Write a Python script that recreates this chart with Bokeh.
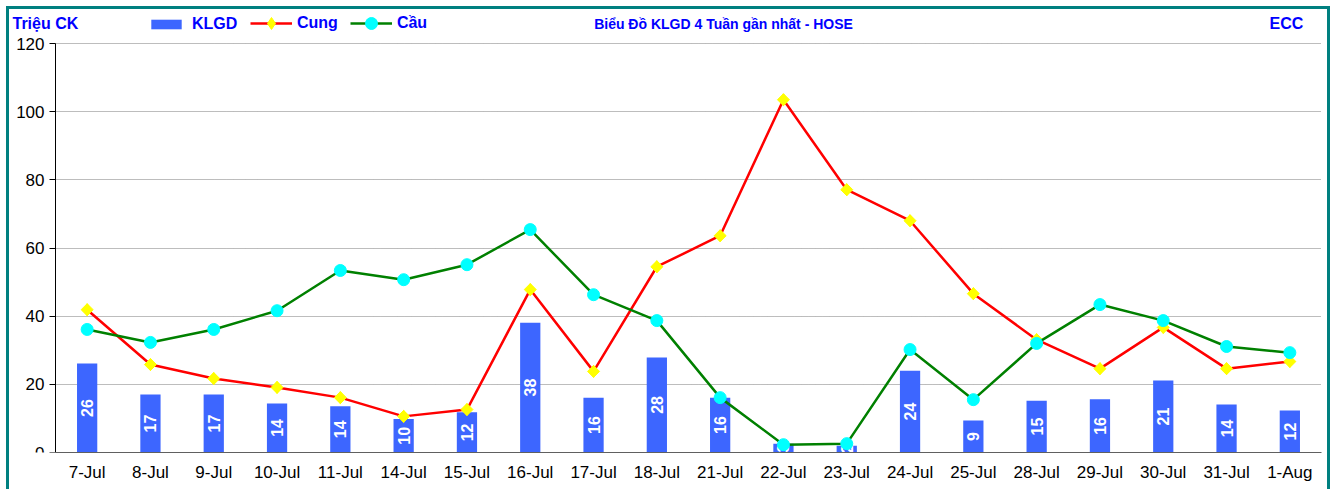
import numpy as np
from bokeh.plotting import figure
from bokeh.models import (ColumnDataSource, Label, Legend, LegendItem, Range1d, FixedTicker,
                          BoxAnnotation)
from bokeh.core.properties import value
from bokeh.embed import file_html
from bokeh.resources import INLINE

dates = ["7-Jul", "8-Jul", "9-Jul", "10-Jul", "11-Jul", "14-Jul", "15-Jul", "16-Jul", "17-Jul", "18-Jul",
         "21-Jul", "22-Jul", "23-Jul", "24-Jul", "25-Jul", "28-Jul", "29-Jul", "30-Jul", "31-Jul", "1-Aug"]
klgd = [26.1, 17.0, 17.0, 14.4, 13.6, 9.8, 11.8, 38.1, 16.1, 27.9,
        16.1, 2.6, 2.0, 24.0, 9.4, 15.2, 15.6, 21.1, 14.1, 12.3]
cung = [41.9, 25.8, 21.7, 19.1, 16.1, 10.6, 12.6, 47.8, 23.8, 54.5,
        63.6, 103.5, 77.1, 68.0, 46.6, 33.1, 24.6, 36.7, 24.6, 26.7]
cau = [36.1, 32.3, 36.1, 41.6, 53.4, 50.7, 55.1, 65.4, 46.3, 38.7,
       16.1, 2.3, 2.6, 30.2, 15.5, 32.0, 43.4, 38.7, 31.1, 29.3]
y_ticks = [0, 20, 40, 60, 80, 100, 120]

# ---- layout geometry (canvas pixels) ----
W, H = 1324, 483
AXIS_X = 46            # y-axis position inside canvas
FRAME_R = 1312         # right edge of plotting area
FRAME_T, FRAME_B = 1, 443
PLOT_TOP_PX = 34       # where y = 120 sits
Y_MAX = y_ticks[-1]
n = len(dates)
px_per_x = (FRAME_R - AXIS_X) / n
px_per_y = (FRAME_B - PLOT_TOP_PX) / Y_MAX
x_lo, x_hi = -0.5, n - 0.5
x_start = x_lo - AXIS_X / px_per_x
y_end = (FRAME_B - FRAME_T) / px_per_y
HEADER_CY = 14         # header text centre, canvas px from top
HEADER_Y = (FRAME_B - HEADER_CY) / px_per_y

idx = list(range(n))
src = ColumnDataSource(dict(
    x=idx, klgd=klgd, cung=cung, cau=cau,
    half=[v / 2 for v in klgd],
    lbl=[str(int(round(v))) for v in klgd],
))

BLUE_TXT = "#0000FF"
FONT = "Liberation Sans"

p = figure(x_range=Range1d(x_start, x_hi), y_range=Range1d(0, y_end),
           width=W, height=H, output_backend="svg", toolbar_location=None,
           min_border_left=0, min_border_right=W - FRAME_R, min_border_top=FRAME_T,
           min_border_bottom=H - FRAME_B)
p.styles = {"border-style": "solid", "border-color": "#008080", "border-width": "3px 3px 0 3px",
            "margin": "6px 0 0 6px"}
p.outline_line_color = None
p.background_fill_color = "white"
p.border_fill_color = "white"

bars = p.vbar(x="x", top="klgd", width=0.32, source=src, fill_color="#3D66FF", line_color=None)
p.text(x="x", y="half", text="lbl", source=src, angle=np.pi / 2, text_color="white",
       text_font=value(FONT), text_font_style="bold", text_font_size="16px",
       text_align="center", text_baseline="middle")

l1 = p.line(x="x", y="cung", source=src, line_color="#FF0000", line_width=2.5)
# diamond glyph (also used for the legend key) + rotated square giving the even diamond shape
s1 = p.scatter(x="x", y="cung", source=src, marker="diamond", size=12,
               fill_color="#FFFF00", line_color="#FFFF00")
p.scatter(x="x", y="cung", source=src, marker="square", angle=np.pi / 4, size=8.5,
          fill_color="#FFFF00", line_color="#FFFF00")
l2 = p.line(x="x", y="cau", source=src, line_color="#008000", line_width=2.5)
s2 = p.scatter(x="x", y="cau", source=src, marker="circle", size=12,
               fill_color="#00FFFF", line_color="#00FFFF")

p.xgrid.grid_line_color = None
p.ygrid.grid_line_color = "#7a7a7a"
p.ygrid.grid_line_dash = "1 1"
p.ygrid.grid_line_width = 1
p.ygrid.ticker = FixedTicker(ticks=y_ticks)
if "cross_bounds" in p.ygrid[0].properties():
    p.ygrid.cross_bounds = (x_lo, x_hi)
else:
    p.add_layout(BoxAnnotation(left=x_start, right=x_lo, bottom=0, top=y_end, fill_color="white",
                               fill_alpha=1, line_color=None, level="underlay"))

p.yaxis.ticker = FixedTicker(ticks=y_ticks)
p.yaxis.fixed_location = x_lo
p.yaxis.bounds = (0, Y_MAX)
p.xaxis.ticker = FixedTicker(ticks=idx)
p.xaxis.major_label_overrides = {i: d for i, d in zip(idx, dates)}
p.xaxis.bounds = (x_lo, x_hi)

for ax in (p.xaxis[0], p.yaxis[0]):
    ax.major_label_text_font = FONT
    ax.major_label_text_font_size = "17px"
    ax.major_label_text_color = "black"
    ax.minor_tick_line_color = None

p.xaxis.axis_line_color = "#606060"
p.xaxis.major_tick_line_color = None
p.xaxis.major_label_standoff = 4
p.yaxis.axis_line_color = "black"
p.yaxis.major_tick_in = 0
p.yaxis.major_tick_out = 6
p.yaxis.major_tick_line_color = "black"
p.yaxis.major_label_standoff = 5


def make_legend(items, x_left, glyph_w, glyph_h, standoff, spacing):
    item_h = max(glyph_h, 20)
    bottom = FRAME_B - (HEADER_CY + item_h / 2)
    lg = Legend(items=items, orientation="horizontal", location=(x_left, bottom))
    lg.glyph_width = glyph_w
    lg.glyph_height = glyph_h
    lg.label_text_font = FONT
    lg.label_text_font_style = "bold"
    lg.label_text_font_size = "16px"
    lg.label_text_color = BLUE_TXT
    lg.label_standoff = standoff
    lg.spacing = spacing
    lg.padding = 0
    lg.margin = 0
    lg.border_line_color = None
    lg.background_fill_alpha = 0
    p.add_layout(lg, "center")


make_legend([LegendItem(label="KLGD", renderers=[bars])], 138, 38, 12, 7, 0)
make_legend([LegendItem(label="Cung", renderers=[l1, s1]),
             LegendItem(label="Cầu", renderers=[l2, s2])], 241, 42, 30, 5, 12)


def header(txt, x, align, size="16px"):
    p.add_layout(Label(x=x, y=HEADER_Y, x_units="screen", y_units="data", text=txt,
                       text_font=FONT, text_font_style="bold", text_font_size=size,
                       text_color=BLUE_TXT, text_align=align, text_baseline="middle"))


header("Triệu CK", 3, "left")
header("Biểu Đồ KLGD 4 Tuần gần nhất - HOSE", 714, "center", "14px")
header("ECC", 1277, "center")

open("out.html", "w").write(file_html(p, INLINE))
